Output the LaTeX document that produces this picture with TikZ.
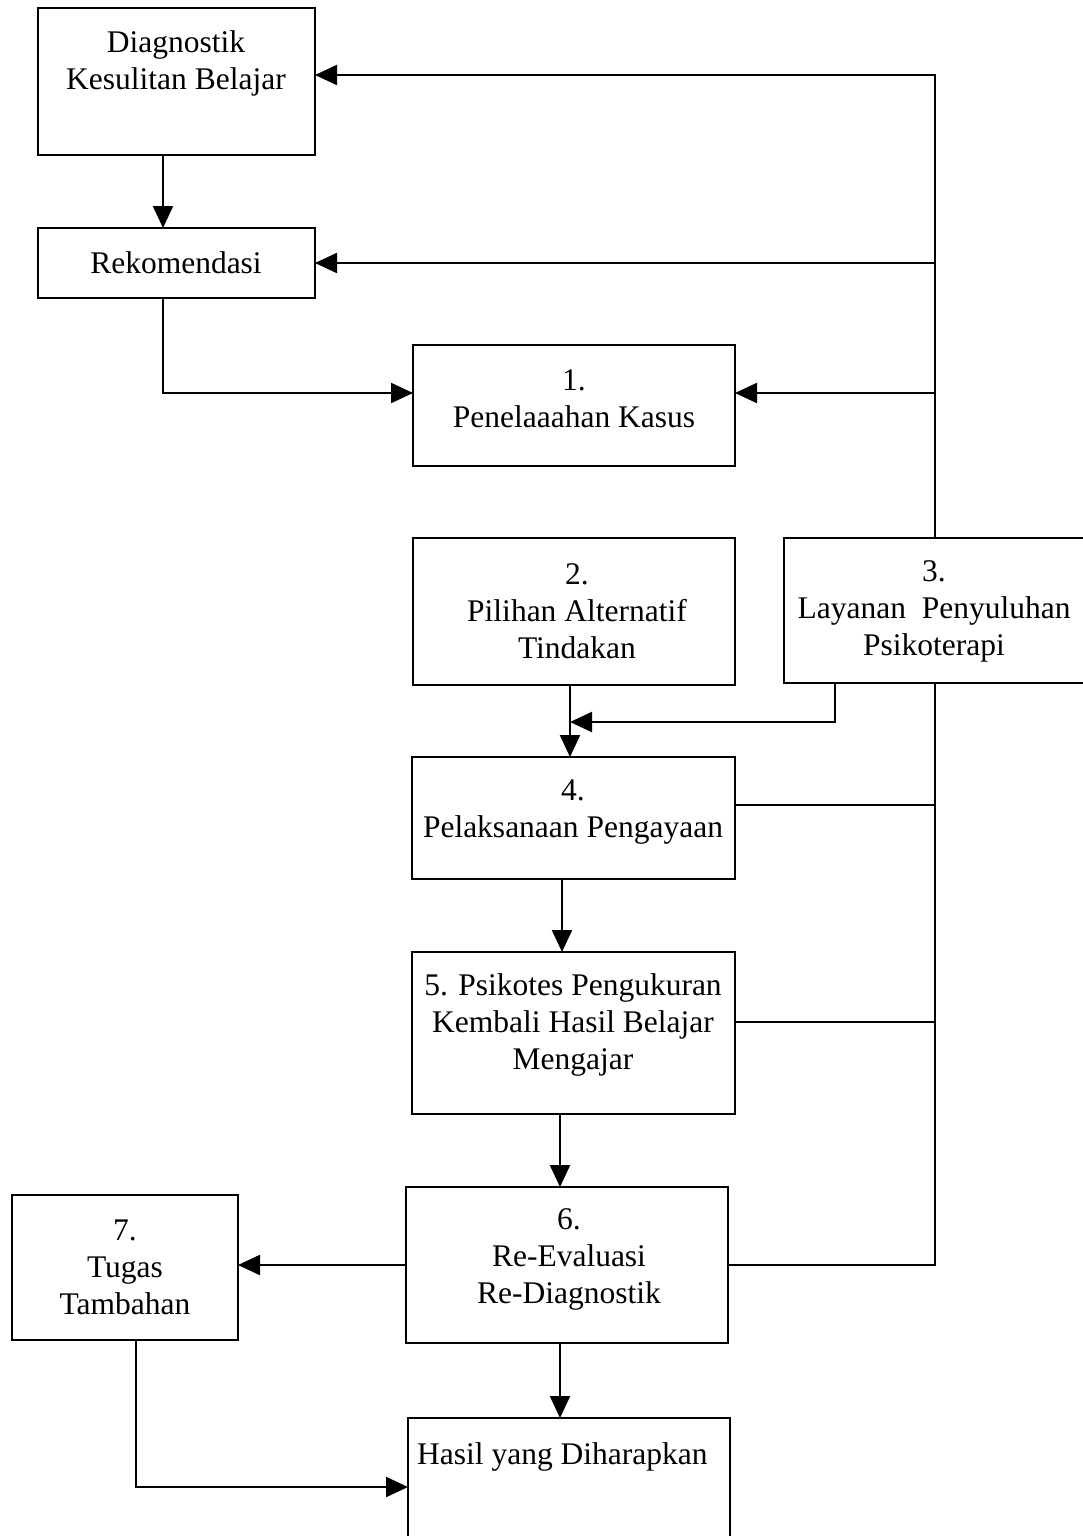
\documentclass[tikz,border=0pt]{standalone}
\usepackage{fontspec}
\setmainfont{Liberation Serif}
\usetikzlibrary{arrows.meta,calc}
\begin{document}
\begin{tikzpicture}[x=1pt,y=-1pt,
  box/.style={draw,line width=2.2pt,inner sep=0pt,outer sep=0pt},
  txt/.style={align=center,inner sep=0pt,font=\fontsize{31.5}{37}\selectfont},
  line/.style={line width=2.2pt},
  arr/.style={line width=2.2pt,-{Triangle[length=22pt,width=20pt]}}]
\useasboundingbox (0,0) rectangle (1082,1536);
% boxes
\node[box,minimum width=277pt,minimum height=147pt] (diag) at (176.5,81.5) {};
\node[box,minimum width=277pt,minimum height=70pt] (rek) at (176.5,263) {};
\node[box,minimum width=322pt,minimum height=121pt] (b1) at (574,405.5) {};
\node[box,minimum width=322pt,minimum height=147pt] (b2) at (574,611.5) {};
\node[box,minimum width=302pt,minimum height=145pt] (b3) at (935,610.5) {};
\node[box,minimum width=323pt,minimum height=122pt] (b4) at (573.5,818) {};
\node[box,minimum width=323pt,minimum height=162pt] (b5) at (573.5,1033) {};
\node[box,minimum width=322pt,minimum height=156pt] (b6) at (567,1265) {};
\node[box,minimum width=226pt,minimum height=145pt] (b7) at (125,1267.5) {};
\node[box,minimum width=322pt,minimum height=140pt] (hasil) at (569,1488) {};
% texts
\node[txt] (tdiag) at (176,63) {Diagnostik\\Kesulitan Belajar};
\node[txt] (trek) at (176,263) {Rekomendasi};
\node[txt] (t1) at (574,399) {1.\\Penelaaahan Kasus};
\node[txt] (t2) at (577,611) {2.\\Pilihan Alternatif\\Tindakan};
\node[txt] (t3) at (934,611) {3.\\Layanan\ \ Penyuluhan\\Psikoterapi};
\node[txt] (t4) at (573,812) {4.\\Pelaksanaan Pengayaan};
\node[txt] (t5) at (573,1025) {5. Psikotes Pengukuran\\Kembali Hasil Belajar\\Mengajar};
\node[txt] (t6) at (569,1259) {6.\\Re-Evaluasi\\Re-Diagnostik};
\node[txt] (t7) at (125,1267) {7.\\Tugas\\Tambahan};
\node[txt,anchor=west] (th) at (417,1457) {Hasil yang Diharapkan};
% helper coordinates
\coordinate (ctop) at (935,75);
\coordinate (c1) at (935,393);
\coordinate (cmid) at (835,722);
\coordinate (cv) at (570,722);
\coordinate (cb) at (136,1487);
% right spine top
\draw[arr] (b3.north) -- (ctop) -- (ctop -| diag.east);
\draw[arr] (b3.north |- rek.east) -- (rek.east);
\draw[arr] (c1) -- (c1 -| b1.east);
% right spine bottom
\draw[line] (b3.south) |- (b6.east);
\draw[line] ([yshift=13pt]b4.east) -- ([yshift=13pt]b4.east -| b3.south);
\draw[line] ([yshift=11pt]b5.east) -- ([yshift=11pt]b5.east -| b3.south);
% left chain
\draw[arr] ([xshift=-13.5pt]diag.south) -- ([xshift=-13.5pt]diag.south |- rek.north);
\draw[arr] ([xshift=-13.5pt]rek.south) |- (c1 -| b1.west);
% middle chain
\draw[arr] (b2.south -| cv) -- (b4.north -| cv);
\draw[arr] (b3.south -| cmid) -- (cmid) -- (cv);
\draw[arr] ([xshift=-11.5pt]b4.south) -- ([xshift=-11.5pt]b4.south |- b5.north);
\draw[arr] ([xshift=-13.5pt]b5.south) -- ([xshift=-13.5pt]b5.south |- b6.north);
\draw[arr] ([xshift=-7pt]b6.south) -- ([xshift=-7pt]b6.south |- hasil.north);
\draw[arr] (b6.west) -- (b6.west -| b7.east);
\draw[arr] (b7.south -| cb) -- (cb) -- (cb -| hasil.west);
\end{tikzpicture}
\end{document}
